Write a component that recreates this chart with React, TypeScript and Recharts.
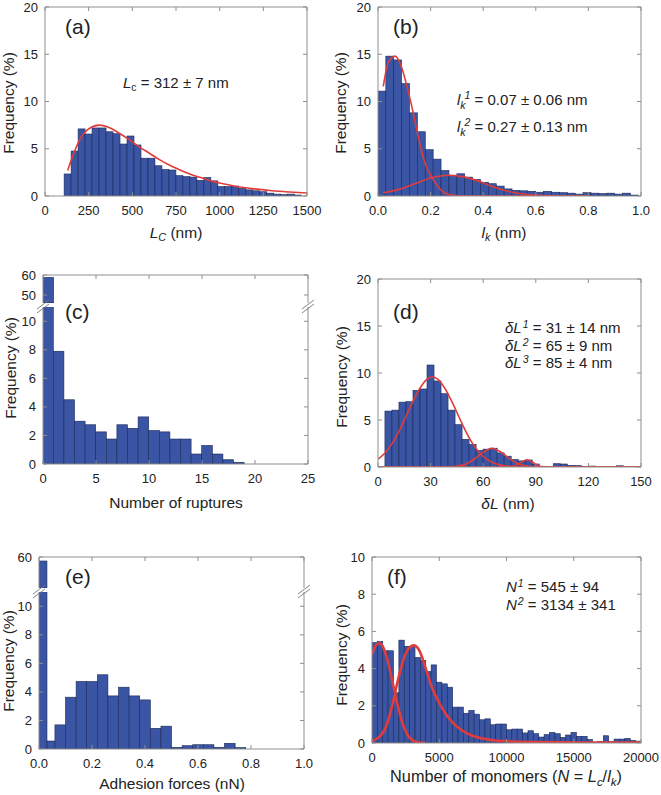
import React from "react";
import { ComposedChart, Bar, Line, XAxis, YAxis } from "recharts";

const FONT = "Arial, 'Liberation Sans', Helvetica, sans-serif";
const BAR_FILL = "#3a55a4";
const BAR_EDGE = "#1b2858";
const FIT_RED = "#e23b3b";
const FRAME = "#8f8f8f";
const TEXT = "#222";

// (a) contour length histogram
const aBinStart = 110;
const aBinWidth = 40;
const aFreq = [2.33, 4.76, 7.1, 6.56, 7.2, 7.2, 6.8, 6.6, 5.5, 6.35, 5.4, 4.0, 4.0, 3.2, 2.8, 2.75, 2.15, 2.05, 2.0, 1.65, 1.95, 1.6, 1.0, 1.0, 1.05, 0.8, 0.65, 0.55, 0.45, 0.3, 0.2, 0.15, 0.2, 0.1];
const aFitX = [130, 160, 200, 250, 310, 360, 420, 480, 540, 600, 660, 720, 780, 840, 900, 960, 1020, 1100, 1200, 1300, 1400, 1500];
const aFitY = [2.7, 4.3, 6.0, 7.1, 7.5, 7.3, 6.7, 6.0, 5.2, 4.5, 3.8, 3.2, 2.7, 2.25, 1.9, 1.55, 1.3, 1.0, 0.75, 0.55, 0.42, 0.32];

// (b) Kuhn length histogram
const bBinStart = 0;
const bBinWidth = 0.03;
const bFreq = [11.1, 14.8, 14.4, 11.9, 8.8, 6.8, 4.9, 3.9, 2.7, 2.2, 2.35, 2.0, 1.75, 1.45, 1.3, 1.05, 0.75, 0.6, 0.55, 0.5, 0.4, 0.5, 0.4, 0.35, 0.3, 0.2, 0.35, 0.3, 0.25, 0.3, 0.2, 0.3, 0.1];
const b1X = [0.02, 0.04, 0.065, 0.09, 0.11, 0.13, 0.145, 0.16, 0.175, 0.19, 0.207, 0.225, 0.245, 0.27, 0.3, 0.34, 0.8];
const b1Y = [11.6, 14.2, 14.8, 13.6, 11.6, 9.3, 7.3, 5.4, 3.8, 2.7, 1.9, 1.1, 0.5, 0.15, 0.03, 0, 0];
const b2X = [0.02, 0.08, 0.14, 0.2, 0.27, 0.33, 0.38, 0.43, 0.48, 0.53, 0.58, 0.64, 0.7, 0.8];
const b2Y = [0.35, 0.7, 1.3, 1.9, 2.2, 2.0, 1.6, 1.05, 0.6, 0.3, 0.13, 0.05, 0.01, 0];

// (c) number of ruptures
const cBinStart = 0;
const cBinWidth = 1;
const cFreq = [58.8, 7.9, 4.5, 3.0, 2.75, 2.25, 1.75, 2.75, 2.5, 3.3, 2.35, 2.25, 1.75, 1.75, 0.7, 1.3, 0.7, 0.3, 0.12];

// (d) delta L
const dBinStart = 4;
const dBinWidth = 4;
const dFreq = [5.95, 6.05, 6.9, 6.95, 8.15, 8.3, 10.85, 9.15, 7.8, 6.05, 4.5, 2.95, 2.4, 1.75, 1.9, 2.0, 1.5, 1.15, 0.8, 0.65, 0.75, 0.32, 0.08, 0.03, 0.35, 0.32, 0.18, 0.15, 0.05, 0.1, 0.05, 0.03, 0.05, 0.13, 0.04];
const d1X = [0, 4, 8, 12, 16, 20, 24, 28, 31, 34, 38, 42, 46, 50, 54, 58, 62, 66, 70, 75, 80, 90, 150];
const d1Y = [0.83, 1.49, 2.48, 3.82, 5.4, 7.0, 8.4, 9.35, 9.57, 9.35, 8.4, 7.0, 5.4, 3.82, 2.48, 1.49, 0.83, 0.42, 0.2, 0.07, 0.02, 0, 0];
const d2X = [0, 40, 45, 50, 55, 60, 65, 70, 75, 80, 85, 90, 95, 150];
const d2Y = [0, 0, 0.1, 0.3, 0.85, 1.55, 2.0, 1.6, 0.9, 0.35, 0.1, 0.02, 0, 0];
const d3X = [0, 74, 77, 80, 83, 85, 87, 90, 93, 96, 150];
const d3Y = [0, 0, 0.05, 0.3, 0.65, 0.75, 0.65, 0.3, 0.05, 0, 0];

// (e) adhesion forces (first two bins are narrower)
const eEdges = [0, 0.03, 0.06, 0.1, 0.14, 0.18, 0.22, 0.26, 0.3, 0.34, 0.38, 0.42, 0.46, 0.5, 0.54, 0.58, 0.62, 0.66, 0.7, 0.74, 0.78];
const eFreq = [58.0, 0.56, 1.69, 3.63, 4.73, 4.73, 5.2, 3.72, 4.33, 3.72, 3.44, 1.45, 1.6, 0.12, 0.23, 0.3, 0.3, 0.12, 0.4, 0.1];

// (f) number of monomers
const fBinStart = 0;
const fBinWidth = 400;
const fFreq = [5.4, 5.45, 4.96, 4.96, 2.7, 5.53, 5.2, 5.2, 4.6, 4.43, 3.84, 4.2, 3.27, 3.18, 3.0, 1.93, 1.93, 1.6, 1.75, 1.55, 1.25, 1.3, 0.98, 1.02, 1.02, 0.71, 0.75, 0.75, 0.54, 0.66, 0.5, 0.32, 0.45, 0.57, 0.5, 0.3, 0.43, 0.57, 0.36, 0.36, 0.18, 0.04, 0.07, 0.39, 0.07, 0.21, 0.21, 0.25, 0.14, 0.1];
const f1X = [0, 250, 545, 800, 1100, 1400, 1700, 2000, 2300, 2600, 2900, 3300, 3700, 4000];
const f1Y = [4.75, 5.2, 5.36, 5.2, 4.6, 3.7, 2.7, 1.75, 1.0, 0.5, 0.2, 0.06, 0.01, 0];
const f2X = [0, 500, 1000, 1500, 2000, 2500, 3100, 3500, 4000, 4500, 5000, 5500, 6000, 6500, 7000, 8000, 9000, 10000, 12000, 15000, 20000];
const f2Y = [0.1, 0.3, 0.8, 2.0, 3.6, 4.8, 5.25, 5.0, 4.0, 2.9, 2.15, 1.55, 1.1, 0.78, 0.55, 0.28, 0.15, 0.1, 0.05, 0.03, 0.02];

type Bin = { x: number; lo: number; hi: number; y: number };
type Pt = { x: number; y: number };

const uniformBins = (start: number, width: number, freq: number[]): Bin[] =>
  freq.map((y, i) => ({ lo: start + i * width, hi: start + (i + 1) * width, x: start + (i + 0.5) * width, y }));
const edgeBins = (edges: number[], freq: number[]): Bin[] =>
  freq.map((y, i) => ({ lo: edges[i], hi: edges[i + 1], x: (edges[i] + edges[i + 1]) / 2, y }));
const zip = (xs: number[], ys: number[]): Pt[] => xs.map((x, i) => ({ x, y: ys[i] }));

const fmt0 = (v: number) => String(v);
const fmt1 = (v: number) => v.toFixed(1);

interface PanelProps {
  left: number;
  top: number;
  w: number;
  h: number;
  xDomain: [number, number];
  xTicks: number[];
  xFmt?: (v: number) => string;
  yDomain: [number, number];
  yTicks: number[];
  bins: Bin[];
  fits?: Pt[][];
  fitWidth?: number;
  bottom?: boolean;
  topAxis?: boolean;
}

const PL = 50;
const PR = 20;
const PT = 10;
const PB = 30;
const TICK = 4;

function Panel({ left, top, w, h, xDomain, xTicks, xFmt = fmt0, yDomain, yTicks, bins, fits = [], fitWidth = 1.6, bottom = true, topAxis = true }: PanelProps) {
  const pxPerUnit = w / (xDomain[1] - xDomain[0]);
  const shape = (p: any) => {
    const b = p.payload as Bin;
    if (!b || !p.height) return <g />;
    const bw = (b.hi - b.lo) * pxPerUnit;
    const cx = p.x + p.width / 2;
    const y = p.height < 0 ? p.y + p.height : p.y;
    return <rect x={cx - bw / 2} y={y} width={bw} height={Math.abs(p.height)} fill={BAR_FILL} stroke={BAR_EDGE} strokeWidth={0.6} />;
  };
  const bottomTick = (p: any) => (
    <g>
      <line x1={p.x} x2={p.x} y1={p.y - 10} y2={p.y - 10 - TICK} stroke={FRAME} />
      <text x={p.x} y={p.y} dy="0.71em" textAnchor="middle" fontSize={13} fill={TEXT} fontFamily={FONT}>
        {xFmt(p.payload.value)}
      </text>
    </g>
  );
  const leftTick = (p: any) => (
    <g>
      <line x1={p.x + 7} x2={p.x + 7 + TICK} y1={p.y} y2={p.y} stroke={FRAME} />
      <text x={p.x} y={p.y} dy="0.35em" textAnchor="end" fontSize={13} fill={TEXT} fontFamily={FONT}>
        {p.payload.value}
      </text>
    </g>
  );
  const topTick = (p: any) => <line x1={p.x} x2={p.x} y1={p.y} y2={p.y + TICK} stroke={FRAME} />;
  const rightTick = (p: any) => <line x1={p.x} x2={p.x - TICK} y1={p.y} y2={p.y} stroke={FRAME} />;

  return (
    <div style={{ position: "absolute", left: left - PL, top: top - PT }}>
      <ComposedChart
        width={w + PL + PR}
        height={h + PT + PB}
        data={bins}
        margin={{ top: topAxis ? PT - 1 : PT, right: PR - 1, bottom: bottom ? 0 : PB, left: 0 }}
        barCategoryGap={0}
        barGap={0}
      >
        <XAxis xAxisId="b" dataKey="x" type="number" domain={xDomain} ticks={xTicks} interval={0} allowDataOverflow hide={!bottom} height={PB} tickSize={0} tickMargin={10} tick={bottomTick} tickLine={false} axisLine={{ stroke: FRAME }} />
        <XAxis xAxisId="t" dataKey="x" orientation="top" type="number" domain={xDomain} ticks={xTicks} interval={0} allowDataOverflow hide={!topAxis} height={1} tickSize={0} tickMargin={0} tick={topTick} tickLine={false} axisLine={{ stroke: FRAME }} />
        <YAxis yAxisId="l" dataKey="y" type="number" domain={yDomain} ticks={yTicks} interval={0} allowDataOverflow width={PL} tickSize={0} tickMargin={7} tick={leftTick} tickLine={false} axisLine={{ stroke: FRAME }} />
        <YAxis yAxisId="r" dataKey="y" orientation="right" type="number" domain={yDomain} ticks={yTicks} interval={0} allowDataOverflow width={1} tickSize={0} tickMargin={0} tick={rightTick} tickLine={false} axisLine={{ stroke: FRAME }} />
        <Bar xAxisId="b" yAxisId="l" dataKey="y" barSize={2} shape={shape} isAnimationActive={false} />
        {fits.map((pts, i) => (
          <Line key={i} xAxisId="b" yAxisId="l" data={pts} dataKey="y" type="monotone" stroke={FIT_RED} strokeWidth={fitWidth} dot={false} activeDot={false} isAnimationActive={false} />
        ))}
      </ComposedChart>
    </div>
  );
}

const Txt = ({ x, base, size = 15, anchor, children }: { x: number; base: number; size?: number; anchor?: "middle"; children: React.ReactNode }) => (
  <div
    style={{
      position: "absolute",
      left: x,
      top: base - 0.85 * size,
      fontSize: size,
      lineHeight: 1,
      whiteSpace: "nowrap",
      color: TEXT,
      transform: anchor === "middle" ? "translateX(-50%)" : undefined,
    }}
  >
    {children}
  </div>
);

const YLab = ({ cx, cy }: { cx: number; cy: number }) => (
  <div
    style={{
      position: "absolute",
      left: cx,
      top: cy,
      fontSize: 15.5,
      lineHeight: 1,
      whiteSpace: "nowrap",
      color: TEXT,
      transform: "translate(-50%, -50%) rotate(-90deg)",
    }}
  >
    Frequency (%)
  </div>
);

const I = ({ children }: { children: React.ReactNode }) => <span style={{ fontStyle: "italic" }}>{children}</span>;
const Sub = ({ s, it, children }: { s: number; it?: boolean; children: React.ReactNode }) => (
  <span style={{ fontSize: s * 0.7, verticalAlign: -s * 0.22, lineHeight: 0, fontStyle: it ? "italic" : "normal" }}>{children}</span>
);
const Sup = ({ s, children }: { s: number; children: React.ReactNode }) => (
  <span style={{ fontSize: s * 0.7, verticalAlign: s * 0.38, lineHeight: 0, fontStyle: "italic", marginLeft: 1 }}>{children}</span>
);
// subscript k with the superscript index set just right of it, as in the original
const KSub = ({ s, sup }: { s: number; sup: string }) => (
  <>
    <span style={{ fontSize: s * 0.7, verticalAlign: -s * 0.24, lineHeight: 0, fontStyle: "italic" }}>k</span>
    <span style={{ fontSize: s * 0.7, verticalAlign: s * 0.42, lineHeight: 0, fontStyle: "italic", marginLeft: -1 }}>{sup}</span>
  </>
);

const BreakMark = ({ x, y }: { x: number; y: number }) => (
  <g stroke="#777" strokeWidth={0.9}>
    <line x1={x - 6} y1={y + 3} x2={x + 6} y2={y - 6} />
    <line x1={x - 6} y1={y + 7} x2={x + 6} y2={y - 2} />
  </g>
);

export default function App() {
  const aBins = uniformBins(aBinStart, aBinWidth, aFreq);
  const bBins = uniformBins(bBinStart, bBinWidth, bFreq);
  const cBins = uniformBins(cBinStart, cBinWidth, cFreq);
  const dBins = uniformBins(dBinStart, dBinWidth, dFreq);
  const eBins = edgeBins(eEdges, eFreq);
  const fBins = uniformBins(fBinStart, fBinWidth, fFreq);
  const tick20 = [0, 5, 10, 15, 20];
  const tick10 = [0, 2, 4, 6, 8, 10];
  const unit = [0, 0.2, 0.4, 0.6, 0.8, 1.0];

  return (
    <div style={{ position: "absolute", left: 0, top: 0, width: 661, height: 795, background: "#fff", fontFamily: FONT, overflow: "hidden" }}>
      {/* (a) */}
      <Panel left={45} top={7} w={262} h={189} xDomain={[0, 1500]} xTicks={[0, 250, 500, 750, 1000, 1250, 1500]} yDomain={[0, 20]} yTicks={tick20} bins={aBins} fits={[zip(aFitX, aFitY)]} />
      {/* (b) */}
      <Panel left={378} top={7} w={263} h={189} xDomain={[0, 1]} xTicks={unit} xFmt={fmt1} yDomain={[0, 20]} yTicks={tick20} bins={bBins} fits={[zip(b1X, b1Y), zip(b2X, b2Y)]} />
      {/* (c) broken axis */}
      <Panel left={43} top={275} w={265} h={28} xDomain={[0, 25]} xTicks={[0, 5, 10, 15, 20, 25]} yDomain={[46, 60]} yTicks={[50, 60]} bins={cBins.filter((b) => b.y > 46)} bottom={false} />
      <Panel left={43} top={307} w={265} h={157} xDomain={[0, 25]} xTicks={[0, 5, 10, 15, 20, 25]} yDomain={[0, 11]} yTicks={tick10} bins={cBins} topAxis={false} />
      {/* (d) */}
      <Panel left={378} top={279} w={263} h={188} xDomain={[0, 150]} xTicks={[0, 30, 60, 90, 120, 150]} yDomain={[0, 20]} yTicks={tick20} bins={dBins} fits={[zip(d1X, d1Y), zip(d2X, d2Y), zip(d3X, d3Y)]} />
      {/* (e) broken axis */}
      <Panel left={39} top={557} w={265} h={31} xDomain={[0, 1]} xTicks={unit} xFmt={fmt1} yDomain={[44.5, 60]} yTicks={[60]} bins={eBins.filter((b) => b.y > 44.5)} bottom={false} />
      <Panel left={39} top={592} w={265} h={157} xDomain={[0, 1]} xTicks={unit} xFmt={fmt1} yDomain={[0, 11]} yTicks={tick10} bins={eBins} topAxis={false} />
      {/* (f) */}
      <Panel left={372} top={557} w={269} h={186} xDomain={[0, 20000]} xTicks={[0, 5000, 10000, 15000, 20000]} yDomain={[0, 10]} yTicks={tick10} bins={fBins} fits={[zip(f1X, f1Y), zip(f2X, f2Y)]} fitWidth={2.6} />

      <svg width={661} height={795} style={{ position: "absolute", left: 0, top: 0, pointerEvents: "none" }}>
        <BreakMark x={43} y={306} />
        <BreakMark x={308} y={306} />
        <BreakMark x={39} y={591} />
        <BreakMark x={304} y={591} />
      </svg>

      {/* panel letters */}
      <Txt x={65} base={34} size={21}>(a)</Txt>
      <Txt x={393} base={34} size={21}>(b)</Txt>
      <Txt x={65} base={319} size={21}>(c)</Txt>
      <Txt x={393} base={319} size={21}>(d)</Txt>
      <Txt x={65} base={584} size={21}>(e)</Txt>
      <Txt x={387} base={584} size={21}>(f)</Txt>

      {/* y labels */}
      <YLab cx={9} cy={103} />
      <YLab cx={341} cy={103} />
      <YLab cx={11} cy={368} />
      <YLab cx={342} cy={377} />
      <YLab cx={9} cy={661} />
      <YLab cx={342} cy={655} />

      {/* x labels */}
      <Txt x={176} base={238} size={15.5} anchor="middle">
        <I>L</I><Sub s={15.5} it>C</Sub> (nm)
      </Txt>
      <Txt x={504} base={238} size={15.5} anchor="middle">
        <I>l</I><Sub s={15.5} it>k</Sub> (nm)
      </Txt>
      <Txt x={176} base={508} size={15.5} anchor="middle">Number of ruptures</Txt>
      <Txt x={508} base={509} size={15.5} anchor="middle">
        <I>δL</I> (nm)
      </Txt>
      <Txt x={172} base={789} size={15.5} anchor="middle">Adhesion forces (nN)</Txt>
      <Txt x={506} base={782} size={16.3} anchor="middle">
        Number of monomers (<I>N</I> = <I>L</I><Sub s={16.3} it>c</Sub>/<I>l</I><Sub s={16.3} it>k</Sub>)
      </Txt>

      {/* annotations */}
      <Txt x={123} base={88} size={15}>
        <I>L</I><Sub s={15}>c</Sub> = 312 ± 7 nm
      </Txt>
      <Txt x={457} base={105} size={15}>
        <I>l</I><KSub s={15} sup="1" /> = 0.07 ± 0.06 nm
      </Txt>
      <Txt x={457} base={132} size={15}>
        <I>l</I><KSub s={15} sup="2" /> = 0.27 ± 0.13 nm
      </Txt>
      <Txt x={505} base={333} size={15}>
        <I>δL</I><Sup s={15}>1</Sup> = 31 ± 14 nm
      </Txt>
      <Txt x={505} base={351} size={15}>
        <I>δL</I><Sup s={15}>2</Sup> = 65 ± 9 nm
      </Txt>
      <Txt x={505} base={368} size={15}>
        <I>δL</I><Sup s={15}>3</Sup> = 85 ± 4 nm
      </Txt>
      <Txt x={506} base={592} size={15}>
        <I>N</I><Sup s={15}>1</Sup> = 545 ± 94
      </Txt>
      <Txt x={506} base={610} size={15}>
        <I>N</I><Sup s={15}>2</Sup> = 3134 ± 341
      </Txt>
    </div>
  );
}
